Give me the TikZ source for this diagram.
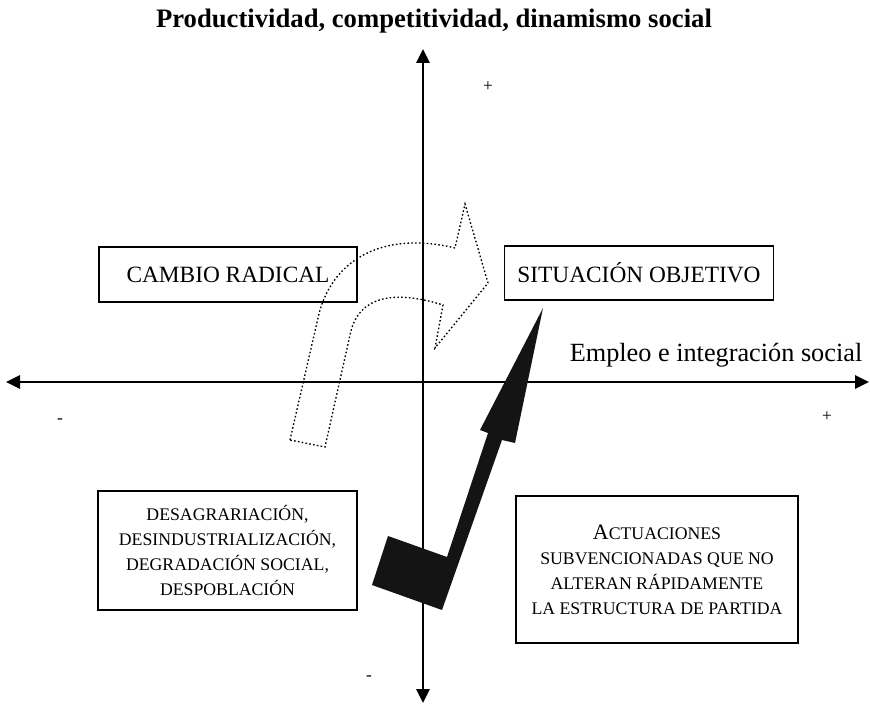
\documentclass[tikz,border=0pt]{standalone}
\usepackage{fontspec}
\setmainfont{Liberation Serif}
\usetikzlibrary{arrows.meta}

\tikzset{every picture/.style={line width=1.1pt}}
\tikzset{
  axisline/.style={line width=1.2pt,{Triangle[length=10.5pt,width=10pt]}-{Triangle[length=10.5pt,width=10pt]}},
  quadbox/.style={draw,line width=1.1pt,inner sep=0pt,align=center,font=\fontsize{17.5}{21}\selectfont},
  notebox/.style={draw,line width=1.1pt,inner sep=0pt,align=center,font=\fontsize{13.3}{18.8}\selectfont},
  signmark/.style={font=\fontsize{13}{13}\selectfont,inner sep=0pt},
  turnpath/.style={line width=1pt,dash pattern=on 1.2pt off 1.7pt},
}

\begin{document}
\begin{tikzpicture}[x=0.75pt,y=0.75pt,yscale=-1,xscale=1]
\useasboundingbox (0,0) rectangle (870,705);

%Axis end points
\coordinate (xl) at (6,382);
\coordinate (xr) at (869,382);
\coordinate (yt) at (423,49);
\coordinate (yb) at (423,703);

%Straight Lines
\draw [axisline] (xl) -- (xr);
\draw [axisline] (yb) -- (yt);

%Shape: dotted turn arrow
\draw [turnpath] (290,440) -- (318,318) .. controls (330,262) and (380,230) .. (455,248) -- (465,204) -- (488,283) -- (435,348) -- (443,305) .. controls (395,290) and (358,295) .. (350,335) -- (325,447) -- cycle ;

%Shape: black bent arrow
\fill [black!92] (543,308) -- (515,443) -- (502,440) -- (442,610) -- (372,585) -- (388,536) -- (447,557) -- (488,433) -- (480,430) -- cycle ;

% Text Node
\node [font=\fontsize{20}{24}\selectfont\bfseries,anchor=base] (title) at (434,28) {Productividad, competitividad, dinamismo social};
% Text Node
\node [font=\fontsize{19.7}{23}\selectfont,anchor=base] (xlabel) at (716,362) {Empleo e integración social};

% Text Node
\node [quadbox,minimum width=193.5pt,minimum height=41.25pt] (cambio) at (228,274.5) {CAMBIO RADICAL};
% Text Node
\node [quadbox,minimum width=202pt,minimum height=40.5pt] (objetivo) at (639,273) {SITUACIÓN OBJETIVO};
% Text Node
\node [notebox,minimum width=194.25pt,minimum height=89.25pt] (declive) at (227.5,550.5) {DESAGRARIACIÓN,\\DESINDUSTRIALIZACIÓN,\\DEGRADACIÓN SOCIAL,\\DESPOBLACIÓN};
% Text Node
\node [notebox,minimum width=211.5pt,minimum height=110.25pt] (actuaciones) at (657,569.5) {{\fontsize{16.5}{18.8}\selectfont A}CTUACIONES\\SUBVENCIONADAS QUE NO\\ALTERAN RÁPIDAMENTE\\LA ESTRUCTURA DE PARTIDA};

% Text Node
\node [signmark] (plustop) at (488,87) {+};
% Text Node
\node [signmark] (plusright) at (827,417) {+};
% Text Node
\node [signmark] (minusleft) at (60,421) {-};
% Text Node
\node [signmark] (minusbottom) at (369,678) {-};

\end{tikzpicture}
\end{document}
